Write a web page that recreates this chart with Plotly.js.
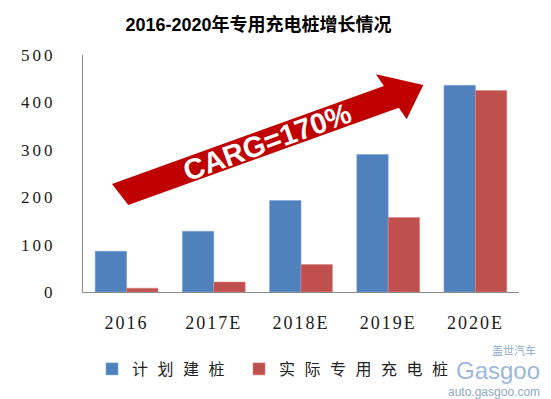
<!DOCTYPE html>
<html>
<head>
<meta charset="utf-8">
<script src="https://cdn.plot.ly/plotly-3.0.1.min.js"></script>
<style>
  html, body { margin: 0; padding: 0; background: #fff; }
  #chart { width: 551px; height: 399px; }
  .legendtext { letter-spacing: 9.5px; }
  .xtick text { letter-spacing: 2px; }
  .ytick text { letter-spacing: 3px; }
</style>
</head>
<body>
<div id="chart"></div>
<script>
// ---- data ----
const categories = ['2016', '2017E', '2018E', '2019E', '2020E'];
const plannedValues = [86, 128, 193, 290, 436];
const actualValues = [8, 21, 58, 157, 425];
const seriesNames = ['计划建桩', '实际专用充电桩'];
const yTickValues = [0, 100, 200, 300, 400, 500];
const titleText = '2016-2020年专用充电桩增长情况';
const arrowLabel = 'CARG=170%';

// ---- layout helpers (pixel -> paper) ----
const W = 551, H = 399;
const M = { l: 83, r: 32, t: 55, b: 107 };
const PW = W - M.l - M.r, PH = H - M.t - M.b;
const px = x => (x - M.l) / PW;
const py = y => (H - M.b - y) / PH;

const arrowPts = [[112,184],[383.9,85.9],[376,74.3],[423.3,85],[406.7,119.3],[398.8,107.7],[128.3,205]];
const arrowPath = 'M' + arrowPts.map(p => px(p[0]).toFixed(4) + ',' + py(p[1]).toFixed(4)).join('L') + 'Z';

const serif = 'Liberation Serif, Times New Roman, serif';
const cjk = 'Noto Sans CJK SC, sans-serif';

const traces = [
  { type: 'bar', name: seriesNames[0], x: categories, y: plannedValues,
    marker: { color: '#4F81BD', line: { color: '#7EA3D3', width: 0.6 } } },
  { type: 'bar', name: seriesNames[1], x: categories, y: actualValues,
    marker: { color: '#C0504D', line: { color: '#D98583', width: 0.6 } } }
];

const layout = {
  width: W, height: H,
  margin: M,
  paper_bgcolor: '#fff', plot_bgcolor: '#fff',
  barmode: 'group', bargap: 0.28, bargroupgap: 0,
  title: {
    text: titleText,
    font: { family: 'Liberation Sans, Arial, Noto Sans CJK SC', size: 18, color: '#000', weight: 'bold' },
    xref: 'container', x: 258.5 / W, xanchor: 'center',
    yref: 'container', y: 1 - 24.5 / H, yanchor: 'middle'
  },
  xaxis: {
    type: 'category',
    showline: true, linecolor: '#8C8C8C', linewidth: 1,
    showgrid: false, zeroline: false, ticks: '',
    tickfont: { family: serif, size: 18, color: '#1a1a1a' },
    ticklabelstandoff: 14
  },
  yaxis: {
    range: [0, 500], tickvals: yTickValues,
    showline: true, linecolor: '#8C8C8C', linewidth: 1,
    showgrid: false, zeroline: false, ticks: '',
    tickfont: { family: serif, size: 17, color: '#1a1a1a' },
    ticklabelstandoff: 23
  },
  showlegend: true,
  legend: {
    orientation: 'h',
    xref: 'container', yref: 'container',
    x: 92 / W, xanchor: 'left',
    y: 1 - 352 / H, yanchor: 'top',
    font: { family: cjk, size: 16, color: '#222' },
    itemwidth: 30,
    bgcolor: 'rgba(0,0,0,0)'
  },
  shapes: [
    { type: 'path', xref: 'paper', yref: 'paper', path: arrowPath,
      fillcolor: '#C00000', line: { width: 0 }, layer: 'above' }
  ],
  annotations: [
    { text: arrowLabel, xref: 'paper', yref: 'paper', x: px(267), y: py(142),
      showarrow: false, textangle: -20, xanchor: 'center', yanchor: 'middle',
      font: { family: 'Liberation Sans, Arial, sans-serif', size: 29, color: '#fff', weight: 'bold' } },
    { text: '盖世汽车', xref: 'paper', yref: 'paper', x: px(514), y: py(350),
      showarrow: false, xanchor: 'center', yanchor: 'middle',
      font: { family: cjk, size: 11, color: '#8FA9C6' } },
    { text: 'Gasgoo', xref: 'paper', yref: 'paper', x: px(498), y: py(370),
      showarrow: false, xanchor: 'center', yanchor: 'middle',
      font: { family: 'Liberation Sans, Arial, sans-serif', size: 24, color: 'rgba(120,160,205,0.75)' } },
    { text: 'auto.gasgoo.com', xref: 'paper', yref: 'paper', x: px(494), y: py(392),
      showarrow: false, xanchor: 'center', yanchor: 'middle',
      font: { family: 'Liberation Sans, Arial, sans-serif', size: 12, color: '#8FA9C6' } }
  ]
};

Plotly.newPlot('chart', traces, layout, { displayModeBar: false, staticPlot: true });
</script>
</body>
</html>
